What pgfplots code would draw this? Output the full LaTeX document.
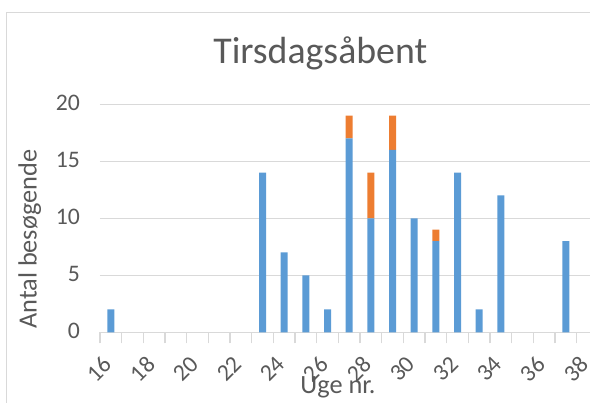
\documentclass[border=0pt]{standalone}
\usepackage{fontspec}
\setmainfont{Carlito}
\usepackage{pgfplots}
\pgfplotsset{compat=1.18}
\usepackage{pgfplotstable}
\definecolor{xlblue}{HTML}{5B9BD5}
\definecolor{xlorange}{HTML}{ED7D31}
\definecolor{gridgray}{HTML}{D9D9D9}
\definecolor{txtgray}{HTML}{595959}
\pgfplotstableread{
x b o
0 2 0
1 0 0
2 0 0
3 0 0
4 0 0
5 0 0
6 0 0
7 14 0
8 7 0
9 5 0
10 2 0
11 17 2
12 10 4
13 16 3
14 10 0
15 8 1
16 14 0
17 2 0
18 12 0
19 0 0
20 0 0
21 8 0
22 0 0
}\datatable
\begin{document}
\begin{tikzpicture}
\draw[gridgray, line width=1.5pt] (6.5pt,-430pt) -- (6.5pt,-12.5pt) -- (620pt,-12.5pt);
\begin{axis}[
  at={(100pt,-332.3pt)}, anchor=south west,
  scale only axis, width=498.4pt, height=228pt,
  xmin=-0.5, xmax=22.5, ymin=0, ymax=20,
  enlargelimits=false,
  ybar stacked, bar width=7pt,
  axis x line*=bottom, axis y line*=left,
  x axis line style={-, draw=gridgray, line width=1.5pt},
  y axis line style={draw=none},
  xtick={0,2,...,22},
  xticklabels={16,18,20,22,24,26,28,30,32,34,36,38},
  minor xtick={-0.5,0.5,...,22.5},
  ytick={0,5,10,15,20},
  tick align=outside,
  major tick length=0pt,
  minor tick length=11pt,
  minor tick style={draw=gridgray, line width=1.5pt},
  ymajorgrids,
  major grid style={draw=gridgray, line width=1.5pt},
  /pgf/number format/assume math mode=true,
  xticklabel style={xshift=-3pt, yshift=-28pt, rotate=45, anchor=east, inner sep=0pt, font=\fontsize{23.7}{28}\selectfont, text=txtgray},
  yticklabel style={anchor=east, inner sep=0pt, xshift=-20pt, yshift=1.5pt, font=\fontsize{23.7}{28}\selectfont, text=txtgray},
  title={Tirsdagsåbent},
  title style={at={(axis description cs:0.442,1.1535)}, anchor=base, inner sep=0pt, font=\fontsize{37.8}{44}\selectfont, text=txtgray},
  xlabel={Uge nr.},
  xlabel style={at={(axis description cs:0.4775,-0.27)}, anchor=base, inner sep=0pt, font=\fontsize{26.3}{31}\selectfont, text=txtgray},
  ylabel={Antal besøgende},
  ylabel style={at={(axis description cs:-0.127,0.408)}, anchor=base, inner sep=0pt, font=\fontsize{26.3}{31}\selectfont, text=txtgray},
]
\addplot[fill=xlblue, draw=none] table[x=x, y=b] {\datatable};
\addplot[fill=xlorange, draw=none] table[x=x, y=o] {\datatable};
\end{axis}
\pgfresetboundingbox
\useasboundingbox (0pt,0pt) rectangle (590pt,-403pt);
\end{tikzpicture}
\end{document}
